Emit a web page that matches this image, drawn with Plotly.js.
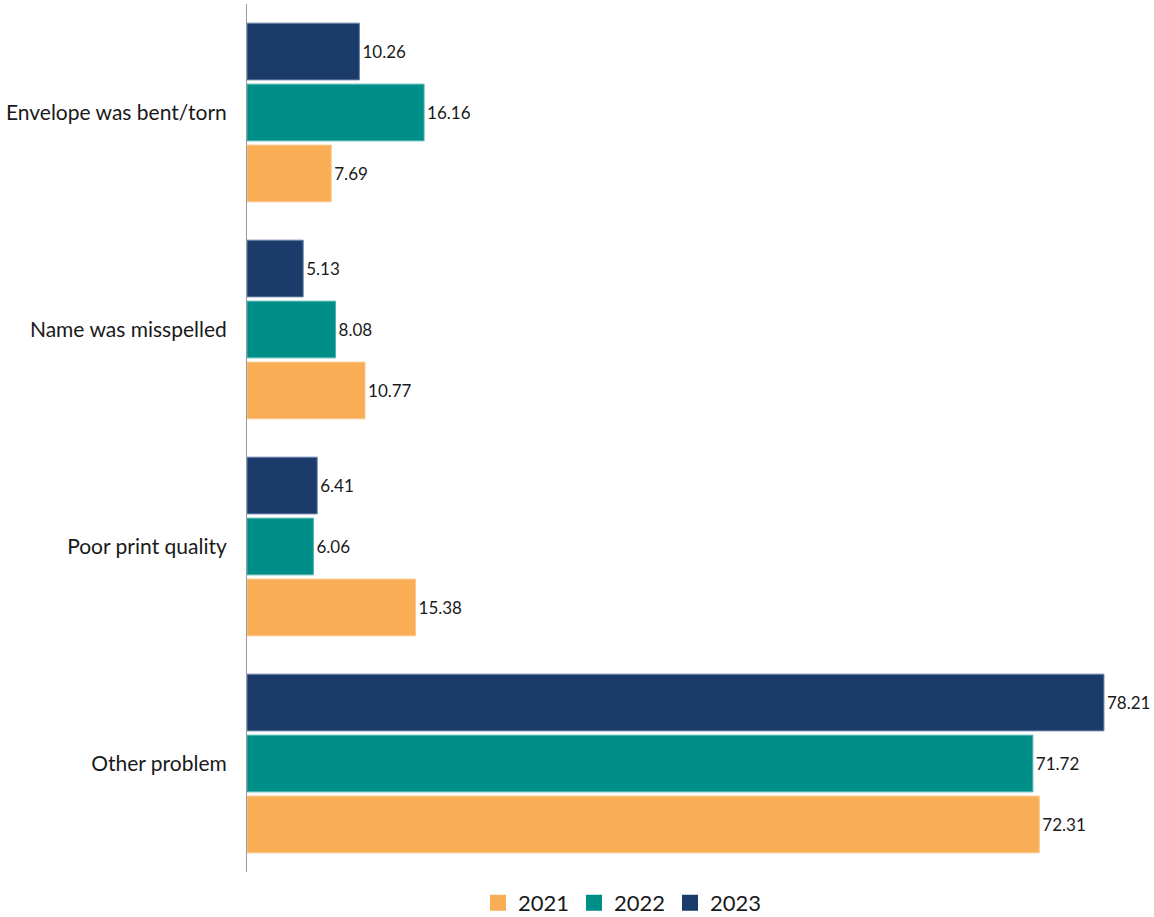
<!DOCTYPE html>
<html>
<head>
<meta charset="utf-8">
<script src="https://cdn.plot.ly/plotly-3.0.1.min.js"></script>
<style>html,body{margin:0;padding:0;background:#fff;}#chart{width:1154px;height:917px;}</style>
</head>
<body>
<div id="chart"></div>
<script>
// Categories listed bottom-to-top
const categories = ["Other problem", "Poor print quality", "Name was misspelled", "Envelope was bent/torn"];
const seriesNames = ["2021", "2022", "2023"];
const values2021 = [72.31, 15.38, 10.77, 7.69];
const values2022 = [71.72, 6.06, 8.08, 16.16];
const values2023 = [78.21, 6.41, 5.13, 10.26];
const colors = ["#F9AE55", "#008F88", "#1B3C6B"];
const outlines = ["#FBC98E", "#4DB3AE", "#6A84A8"];

const allValues = [values2021, values2022, values2023];
const traces = allValues.map((vals, i) => ({
  type: "bar",
  orientation: "h",
  name: seriesNames[i],
  legendgroup: seriesNames[i],
  showlegend: false,
  y: categories,
  x: vals,
  text: vals.map(v => v.toFixed(2)),
  textposition: "outside",
  cliponaxis: false,
  textfont: {family: "Lato, 'Open Sans', sans-serif", size: 17, color: "#1a1a1a"},
  marker: {color: colors[i], line: {color: outlines[i], width: 1}},
  hoverinfo: "x+name"
}));

// Legend-only entries with larger square swatches
const legendTraces = seriesNames.map((n, i) => ({
  type: "scatter",
  mode: "markers",
  name: n,
  legendgroup: n,
  x: [null],
  y: [null],
  marker: {symbol: "square", size: 16, color: colors[i]},
  showlegend: true,
  hoverinfo: "skip"
}));

const layout = {
  width: 1154,
  height: 917,
  margin: {l: 247, r: 14, t: 4, b: 45, pad: 0},
  paper_bgcolor: "#ffffff",
  plot_bgcolor: "#ffffff",
  barmode: "group",
  bargap: 0.157,
  bargroupgap: 0.07,
  showlegend: true,
  legend: {
    orientation: "h",
    xref: "paper",
    x: 0.2587, xanchor: "left",
    yref: "container",
    y: 0.0153, yanchor: "middle",
    entrywidth: 51,
    entrywidthmode: "pixels",
    font: {family: "Lato, 'Open Sans', sans-serif", size: 22, color: "#1a1a1a"},
    traceorder: "normal"
  },
  xaxis: {
    range: [0, 81.5],
    visible: false,
    showgrid: false,
    zeroline: false
  },
  yaxis: {
    type: "category",
    categoryorder: "array",
    categoryarray: categories,
    showline: true,
    linecolor: "#9a9a9a",
    linewidth: 1,
    ticks: "",
    showgrid: false,
    ticklabelstandoff: 15,
    tickfont: {family: "Lato, 'Open Sans', sans-serif", size: 21, color: "#1a1a1a"}
  },
  font: {family: "Lato, 'Open Sans', sans-serif"}
};

Plotly.newPlot("chart", traces.concat(legendTraces), layout, {displayModeBar: false, staticPlot: true});
</script>
</body>
</html>
